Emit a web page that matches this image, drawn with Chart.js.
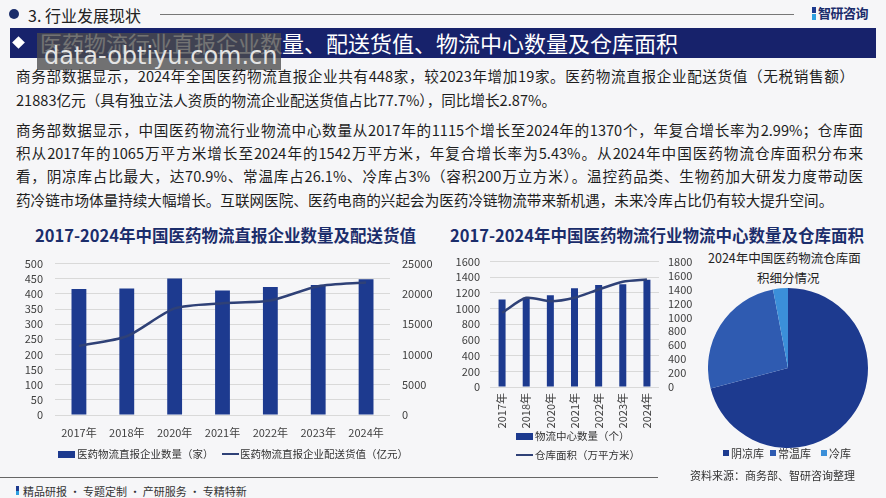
<!DOCTYPE html>
<html>
<head>
<meta charset="utf-8">
<script src="https://cdn.jsdelivr.net/npm/chart.js@4.4.1/dist/chart.umd.min.js"></script>
<style>
  html, body { margin: 0; padding: 0; }
  body { width: 886px; height: 498px; background: #f6f6f8; position: relative; overflow: hidden;
         font-family: "Noto Sans CJK SC", "Noto Sans", sans-serif; color: #222; }
  .abs { position: absolute; white-space: nowrap; }
  canvas { position: absolute; }
  .para { position: absolute; left: 16px; font-size: 14.6px; line-height: 18px; white-space: nowrap; color: #1e1e1e; }
  .just { text-align: justify; text-align-last: justify; }
  .ctitle { position: absolute; font-size: 16.5px; font-weight: bold; color: #1b2d6b; white-space: nowrap; }
  .leg { position: absolute; font-size: 10.5px; color: #333; white-space: nowrap; line-height: 12px; }
  .box { position: absolute; background: #1d3a8f; }
  .ln { position: absolute; height: 2px; background: #2f4177; }
</style>
</head>
<body>

<!-- header -->
<div class="abs" style="left:9px;top:9px;width:10px;height:10px;border-radius:50%;background:#1b2d6b;"></div>
<div class="abs" style="left:28px;top:3px;font-size:16px;color:#222;">3. 行业发展现状</div>
<div class="abs" style="left:160px;top:14px;width:634px;height:1px;background:#777;"></div>
<div class="abs" style="left:812px;top:7px;width:4px;height:6px;background:#1d3a8f;"></div>
<div class="abs" style="left:812px;top:14px;width:4px;height:6px;background:#2fa0e0;"></div>
<div class="abs" style="left:818px;top:3px;font-size:13px;font-weight:bold;color:#1b2d6b;letter-spacing:-0.5px;">智研咨询</div>

<!-- banner -->
<div class="abs" style="left:10px;top:28px;width:866px;height:30px;background:#17226b;"></div>
<div class="abs" style="left:14px;top:38px;width:9px;height:9px;background:#fff;transform:rotate(45deg);"></div>
<div class="abs" style="left:40px;top:26px;font-size:22px;line-height:32px;color:#fff;">医药物流行业直报企业数量、配送货值、物流中心数量及仓库面积</div>
<div class="abs" style="left:37px;top:33px;width:244px;height:37px;background:rgba(75,75,75,0.78);overflow:hidden;">
  <div class="abs" style="left:7px;top:8px;font-size:24px;line-height:30px;color:#e4e4e4;font-family:'DejaVu Sans',sans-serif;">data-obtiyu.com.cn</div>
</div>

<!-- paragraphs -->
<div class="para just" style="top:67px;width:838px;">商务部数据显示，2024年全国医药物流直报企业共有448家，较2023年增加19家。医药物流直报企业配送货值（无税销售额）</div>
<div class="para" style="top:91px;">21883亿元（具有独立法人资质的物流企业配送货值占比77.7%），同比增长2.87%。</div>
<div class="para just" style="top:121px;width:847px;">商务部数据显示，中国医药物流行业物流中心数量从2017年的1115个增长至2024年的1370个，年复合增长率为2.99%；仓库面</div>
<div class="para just" style="top:144px;width:847px;">积从2017年的1065万平方米增长至2024年的1542万平方米，年复合增长率为5.43%。从2024年中国医药物流仓库面积分布来</div>
<div class="para just" style="top:167px;width:847px;">看，阴凉库占比最大，达70.9%、常温库占26.1%、冷库占3%（容积200万立方米）。温控药品类、生物药加大研发力度带动医</div>
<div class="para" style="top:191px;">药冷链市场体量持续大幅增长。互联网医院、医药电商的兴起会为医药冷链物流带来新机遇，未来冷库占比仍有较大提升空间。</div>

<!-- chart titles -->
<div class="ctitle" style="left:35px;top:223px;">2017-2024年中国医药物流直报企业数量及配送货值</div>
<div class="ctitle" style="left:450px;top:223px;">2017-2024年中国医药物流行业物流中心数量及仓库面积</div>

<canvas id="leftChart" width="440" height="200" style="left:0;top:245px;"></canvas>
<canvas id="midChart" width="260" height="190" style="left:440px;top:245px;"></canvas>
<canvas id="pieChart" width="160" height="160" style="left:708px;top:288px;"></canvas>

<!-- left legend -->
<div class="box" style="left:58px;top:451px;width:17px;height:7px;"></div>
<div class="leg" style="left:77px;top:448px;">医药物流直报企业数量（家）</div>
<div class="ln" style="left:222px;top:453px;width:17px;"></div>
<div class="leg" style="left:240px;top:448px;">医药物流直报企业配送货值（亿元）</div>

<!-- middle legend -->
<div class="box" style="left:516px;top:433px;width:17px;height:7px;"></div>
<div class="leg" style="left:535px;top:430px;">物流中心数量（个）</div>
<div class="ln" style="left:516px;top:454px;width:17px;"></div>
<div class="leg" style="left:535px;top:449px;">仓库面积（万平方米）</div>

<!-- pie title + legend -->
<div class="abs" style="left:708px;top:248px;font-size:12.5px;color:#222;">2024年中国医药物流仓库面</div>
<div class="abs" style="left:757px;top:268px;font-size:12.5px;color:#222;">积细分情况</div>
<div id="pieLegend"></div>

<!-- footer -->
<div class="abs" style="left:690px;top:467px;font-size:11px;color:#333;">资料来源：商务部、智研咨询整理</div>
<div class="abs" style="left:0;top:477px;width:658px;height:1px;background:#666;"></div>
<div class="abs" style="left:16px;top:486px;width:3px;height:5px;background:#1d3a8f;"></div>
<div class="abs" style="left:16px;top:491px;width:3px;height:4px;background:#2fa0e0;"></div>
<div class="abs" style="left:23px;top:483px;font-size:11px;color:#333;">精品研报 · 专题定制 · 产研服务 · 专精特新</div>

<script>
// 直报企业数量及配送货值
const years = ['2017年', '2018年', '2020年', '2021年', '2022年', '2023年', '2024年'];
const enterpriseCount = [416, 418, 451, 411, 423, 429, 448];
const deliveryValue = [11400, 13000, 17600, 18450, 18900, 21270, 21883];

// 物流中心数量及仓库面积
const centerCount = [1115, 1140, 1170, 1260, 1300, 1310, 1370];
const warehouseArea = [1065, 1280, 1230, 1280, 1400, 1510, 1542];

// 2024年仓库面积细分
const pieLabels = ['阴凉库', '常温库', '冷库'];
const pieShares = [70.9, 26.1, 3];

const barColor = '#1d3a8f';
const lineColor = '#2f4177';
const gridColor = '#d9d9d9';
const tickColor = '#404040';
const pieColors = ['#1d3a8f', '#2f5bb1', '#3b8fd9'];

Chart.defaults.font.family = '"Noto Sans CJK SC", "Noto Sans", sans-serif';
Chart.defaults.animation = false;

const tickFont = { size: 11 };
const plain = v => String(v);

const valueAxis = (max, step, pad, width, pos) => ({
    position: pos,
    min: 0, max: max,
    ticks: { stepSize: step, color: tickColor, font: tickFont, padding: pad, autoSkip: false, callback: plain },
    grid: pos === 'left' ? { color: gridColor, drawTicks: false } : { display: false, drawTicks: false },
    border: { display: false },
    afterFit: s => { s.width = width }
});

new Chart(document.getElementById('leftChart'), {
    data: {
        labels: years,
        datasets: [{
            type: 'line',
            data: deliveryValue,
            yAxisID: 'y1',
            borderColor: lineColor,
            borderWidth: 2.5,
            pointRadius: 0,
            tension: 0.25
        }, {
            type: 'bar',
            data: enterpriseCount,
            yAxisID: 'y',
            backgroundColor: barColor,
            barPercentage: 0.31,
            categoryPercentage: 1
        }]
    },
    options: {
        responsive: false,
        layout: { padding: { top: 17 } },
        plugins: { legend: { display: false }, tooltip: { enabled: false } },
        scales: {
            x: {
                grid: { display: false, drawTicks: false },
                border: { display: false },
                ticks: { color: tickColor, font: tickFont, padding: 11, maxRotation: 0 },
                afterFit: s => { s.height = 30 }
            },
            y: valueAxis(500, 50, 12, 55, 'left'),
            y1: valueAxis(25000, 5000, 12, 50, 'right')
        }
    }
});

new Chart(document.getElementById('midChart'), {
    data: {
        labels: years,
        datasets: [{
            type: 'line',
            data: warehouseArea,
            yAxisID: 'y1',
            borderColor: lineColor,
            borderWidth: 2.5,
            pointRadius: 0,
            tension: 0.25
        }, {
            type: 'bar',
            data: centerCount,
            yAxisID: 'y',
            backgroundColor: barColor,
            barPercentage: 0.29,
            categoryPercentage: 1
        }]
    },
    options: {
        responsive: false,
        layout: { padding: { top: 13 } },
        plugins: { legend: { display: false }, tooltip: { enabled: false } },
        scales: {
            x: {
                grid: { display: false, drawTicks: false },
                border: { display: false },
                ticks: { color: tickColor, font: tickFont, padding: 6, minRotation: 90, maxRotation: 90, autoSkip: false },
                afterFit: s => { s.height = 48 }
            },
            y: valueAxis(1600, 200, 10, 50, 'left'),
            y1: valueAxis(1800, 200, 9, 41, 'right')
        }
    }
});

new Chart(document.getElementById('pieChart'), {
    type: 'pie',
    data: {
        labels: pieLabels,
        datasets: [{ data: pieShares, backgroundColor: pieColors, borderWidth: 0 }]
    },
    options: {
        responsive: false,
        layout: { padding: 0 },
        plugins: { legend: { display: false }, tooltip: { enabled: false } }
    }
});

// pie legend as text
const legX = [723, 770, 821];
const pieLeg = document.getElementById('pieLegend');
pieLabels.forEach((lab, i) => {
    const sq = document.createElement('div');
    sq.className = 'abs';
    sq.style.cssText = `left:${legX[i]}px;top:450px;width:6px;height:6px;background:${pieColors[i]};`;
    pieLeg.appendChild(sq);
    const t = document.createElement('div');
    t.className = 'leg';
    t.style.cssText = `left:${legX[i] + 8}px;top:447px;font-size:11px;`;
    t.textContent = lab;
    pieLeg.appendChild(t);
});
</script>
</body>
</html>
